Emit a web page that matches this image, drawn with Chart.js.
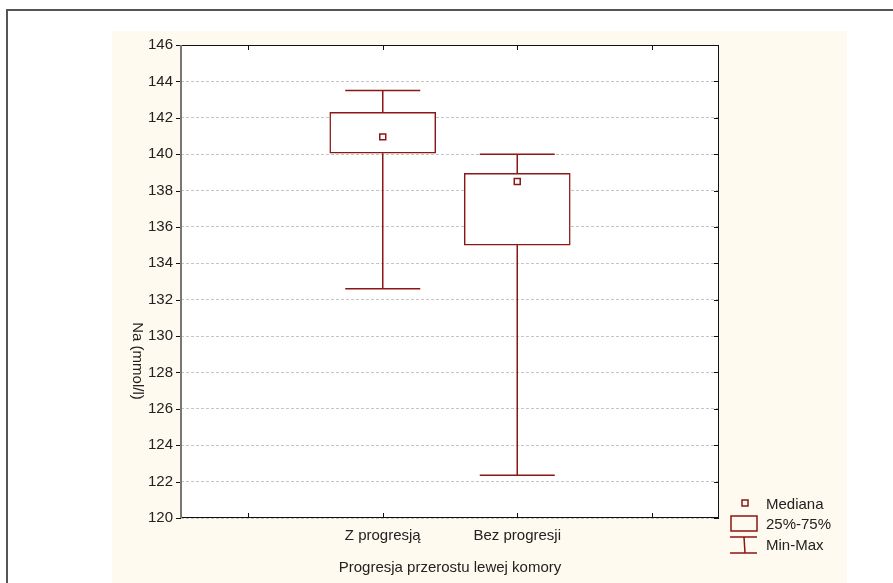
<!DOCTYPE html>
<html>
<head>
<meta charset="utf-8">
<style>
  html, body { margin: 0; padding: 0; background: #fff; }
</style>
<script src="https://cdn.jsdelivr.net/npm/chart.js@4.4.1/dist/chart.umd.min.js"></script>
</head>
<body>
<canvas id="myChart" width="893" height="583"></canvas>
<script>
const categories = ['', 'Z progresją', 'Bez progresji', ''];
const minValues = [null, 132.6, 122.35, null];
const q1Values = [null, 140.05, 135.0, null];
const medianValues = [null, 140.95, 138.5, null];
const q3Values = [null, 142.3, 138.95, null];
const maxValues = [null, 143.5, 140.0, null];
const yTicks = [120, 122, 124, 126, 128, 130, 132, 134, 136, 138, 140, 142, 144, 146];

const RED = '#8a1616';
const FONT = "'Liberation Sans', Arial, sans-serif";

// background, cream panel, outer frame
const backdrop = {
  id: 'backdrop',
  beforeDraw(chart) {
    const c = chart.ctx, a = chart.chartArea;
    c.save();
    c.fillStyle = '#fff';
    c.fillRect(0, 0, chart.width, chart.height);
    c.strokeStyle = '#555';
    c.lineWidth = 2;
    c.beginPath();
    c.moveTo(7, chart.height + 5);
    c.lineTo(7, 10);
    c.lineTo(chart.width + 5, 10);
    c.stroke();
    c.fillStyle = '#fffaef';
    c.fillRect(112, 31, 735, chart.height - 31);
    c.fillStyle = '#fff';
    c.fillRect(a.left, a.top, a.right - a.left, a.bottom - a.top);
    c.restore();
  }
};

// whiskers from min/max arrays
const whiskers = {
  id: 'whiskers',
  afterDatasetsDraw(chart) {
    const c = chart.ctx, x = chart.scales.x, y = chart.scales.y;
    c.save();
    c.strokeStyle = RED;
    c.lineWidth = 1.5;
    categories.forEach((cat, i) => {
      if (minValues[i] == null) return;
      const px = x.getPixelForValue(i);
      const lo = y.getPixelForValue(minValues[i]);
      const hi = y.getPixelForValue(maxValues[i]);
      const b1 = y.getPixelForValue(q1Values[i]);
      const b3 = y.getPixelForValue(q3Values[i]);
      c.beginPath();
      c.moveTo(px, hi); c.lineTo(px, b3);
      c.moveTo(px, b1); c.lineTo(px, lo);
      c.moveTo(px - 37.5, hi); c.lineTo(px + 37.5, hi);
      c.moveTo(px - 37.5, lo); c.lineTo(px + 37.5, lo);
      c.stroke();
    });
    c.restore();
  }
};

// plot frame, tick marks, titles, legend
const decor = {
  id: 'decor',
  afterDraw(chart) {
    const c = chart.ctx, a = chart.chartArea, x = chart.scales.x, y = chart.scales.y;
    c.save();
    c.lineWidth = 1;
    c.strokeStyle = '#111';
    c.beginPath();
    c.moveTo(a.left, a.top + 0.5); c.lineTo(a.right, a.top + 0.5);
    c.moveTo(a.right - 0.5, a.top); c.lineTo(a.right - 0.5, a.bottom);
    c.moveTo(a.left, a.bottom - 0.5); c.lineTo(a.right, a.bottom - 0.5);
    yTicks.forEach(v => {
      const py = Math.round(y.getPixelForValue(v)) + 0.5;
      c.moveTo(a.left - 5, py); c.lineTo(a.left, py);
      c.moveTo(a.right - 5, py); c.lineTo(a.right, py);
    });
    categories.forEach((cat, i) => {
      const px = Math.round(x.getPixelForValue(i)) + 0.5;
      c.moveTo(px, a.top); c.lineTo(px, a.top + 5);
      c.moveTo(px, a.bottom - 5); c.lineTo(px, a.bottom);
    });
    c.stroke();
    c.strokeStyle = '#777';
    c.lineWidth = 2;
    c.beginPath();
    c.moveTo(a.left, a.top); c.lineTo(a.left, a.bottom);
    c.stroke();

    c.fillStyle = '#222';
    c.font = '15px ' + FONT;
    c.textAlign = 'center';
    c.textBaseline = 'middle';
    c.fillText('Progresja przerostu lewej komory', (a.left + a.right) / 2, 568);
    c.save();
    c.translate(137, 361);
    c.rotate(Math.PI / 2);
    c.fillText('Na (mmol/l)', 0, 0);
    c.restore();

    // legend
    c.strokeStyle = RED;
    c.lineWidth = 1.5;
    c.fillStyle = '#fff';
    c.strokeRect(742, 500, 6, 6);
    c.strokeRect(731, 516, 26, 15);
    c.beginPath();
    c.moveTo(730, 537); c.lineTo(757, 537);
    c.moveTo(744, 537); c.lineTo(745, 553);
    c.moveTo(730, 553); c.lineTo(757, 553);
    c.stroke();
    c.fillStyle = '#222';
    c.textAlign = 'left';
    c.fillText('Mediana', 766, 505);
    c.fillText('25%-75%', 766, 525);
    c.fillText('Min-Max', 766, 546);
    c.restore();
  }
};

new Chart(document.getElementById('myChart').getContext('2d'), {
  data: {
    labels: categories,
    datasets: [{
      type: 'bar',
      label: '25%-75%',
      data: q1Values.map((v, i) => v == null ? null : [v, q3Values[i]]),
      backgroundColor: '#fff',
      borderColor: RED,
      borderWidth: 1.5,
      borderSkipped: false,
      barThickness: 106,
      order: 2
    }, {
      type: 'line',
      label: 'Mediana',
      data: medianValues,
      showLine: false,
      pointStyle: 'rect',
      pointRadius: 4.2,
      pointBorderWidth: 1.5,
      pointBackgroundColor: '#fff',
      pointBorderColor: RED,
      order: 1
    }]
  },
  options: {
    responsive: false,
    animation: false,
    layout: { padding: { top: 45, right: 174, left: 0, bottom: 0 } },
    plugins: {
      legend: { display: false },
      tooltip: { enabled: false }
    },
    scales: {
      x: {
        grid: { display: false, drawTicks: false },
        border: { display: false },
        ticks: { color: '#222', font: { family: FONT, size: 15 }, padding: 9 },
        afterFit(scale) { scale.height = 65; }
      },
      y: {
        min: 120,
        max: 146,
        afterBuildTicks(scale) { scale.ticks = yTicks.map(v => ({ value: v })); },
        grid: { color: '#c4c4c4', drawTicks: false },
        border: { display: false, dash: [3, 2] },
        ticks: { color: '#222', font: { family: FONT, size: 15 }, padding: 8 },
        afterFit(scale) { scale.width = 181; }
      }
    }
  },
  plugins: [backdrop, whiskers, decor]
});
</script>
</body>
</html>
